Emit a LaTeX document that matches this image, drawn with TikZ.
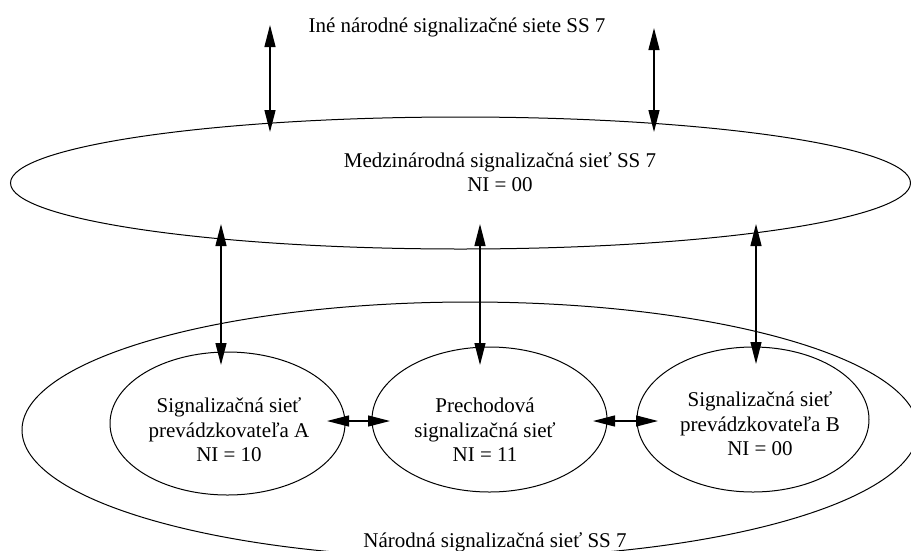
\documentclass[tikz,border=0pt]{standalone}
\usepackage{fontspec}
\setmainfont{Liberation Serif}
\usetikzlibrary{arrows.meta,shapes.geometric}
\begin{document}
\begin{tikzpicture}[x=1pt,y=-1pt,
  net/.style={draw,ellipse,line width=1pt,inner sep=0pt},
  lbl/.style={font=\fontsize{21}{24.5}\selectfont,align=center,inner sep=0pt},
  link/.style={line width=1.3pt,{Triangle[length=22pt,width=11pt]}-{Triangle[length=22pt,width=11pt]}}]
\useasboundingbox (0,0) rectangle (911,550);
\clip (0,0) rectangle (911,550);
% networks
\node[net,minimum width=900pt,minimum height=132pt] (intl) at (460.5,183) {};
\node[net,minimum width=896pt,minimum height=256pt] (natl) at (470,430) {};
\node[net,minimum width=235pt,minimum height=143pt] (opA) at (227.5,423.5) {};
\node[net,minimum width=235pt,minimum height=145pt] (tran) at (489.5,419.5) {};
\node[net,minimum width=232pt,minimum height=145pt] (opB) at (753,419.5) {};
% labels
\node[lbl,anchor=base] (tOther) at (457,32) {Iné národné signalizačné siete SS 7};
\node[lbl] (tIntl) at (500,172) {Medzinárodná signalizačná sieť SS 7\\NI = 00};
\node[lbl,anchor=base] (tNatl) at (495,547) {Národná signalizačná sieť SS 7};
\node[lbl] (tA) at (229,430) {Signalizačná sieť\\prevádzkovateľa A\\NI = 10};
\node[lbl] (tT) at (485,430) {Prechodová\\signalizačná sieť\\NI = 11};
\node[lbl] (tB) at (760,424) {Signalizačná sieť\\prevádzkovateľa B\\NI = 00};
% connector end points
\coordinate (o1) at (270,25);  \coordinate (i1) at (270,132);
\coordinate (o2) at (654,28);  \coordinate (i2) at (654,132);
\coordinate (u1) at (221,224); \coordinate (d1) at (221,365);
\coordinate (u2) at (480,224); \coordinate (d2) at (480,365);
\coordinate (u3) at (756,224); \coordinate (d3) at (756,364);
\coordinate (hA) at (327,421); \coordinate (hT1) at (390,421);
\coordinate (hT2) at (593,421); \coordinate (hB) at (658,421);
% connectors
\draw[link] (o1) -- (i1);
\draw[link] (o2) -- (i2);
\draw[link] (u1) -- (d1);
\draw[link] (u2) -- (d2);
\draw[link] (u3) -- (d3);
\draw[link] (hA) -- (hT1);
\draw[link] (hT2) -- (hB);
\end{tikzpicture}
\end{document}
